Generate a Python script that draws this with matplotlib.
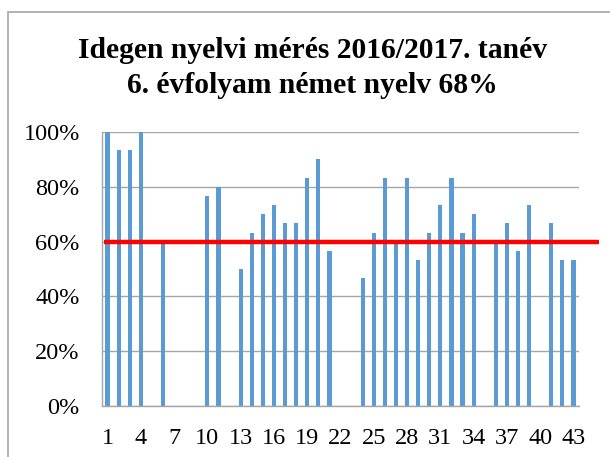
import numpy as np
import matplotlib
matplotlib.use("Agg")
import matplotlib.pyplot as plt
from matplotlib.patches import Rectangle

plt.rcParams['font.family'] = ['Liberation Serif', 'DejaVu Serif']

title_lines = ["Idegen nyelvi mérés 2016/2017. tanév",
               "6. évfolyam német nyelv 68%"]
categories = list(range(1, 44))
values = [100, 93.3, 93.3, 100, np.nan, 60, np.nan, np.nan, np.nan, 76.7,
          80, np.nan, 50, 63.3, 70, 73.3, 66.7, 66.7, 83.3, 90,
          56.7, np.nan, np.nan, 46.7, 63.3, 83.3, 60, 83.3, 53.3, 63.3,
          73.3, 83.3, 63.3, 70, np.nan, 60, 66.7, 56.7, 73.3, np.nan,
          66.7, 53.3, 53.3]
threshold = 60
yticks = [0, 20, 40, 60, 80, 100]
ytick_labels = ["0%", "20%", "40%", "60%", "80%", "100%"]
xtick_values = list(range(1, 44, 3))

fig = plt.figure(figsize=(6.10, 4.57), dpi=100)
ax = fig.add_axes([0.1672, 0.1116, 0.7820, 0.5995])

vals = np.array(values, dtype=float)
ax.bar(categories, np.nan_to_num(vals), width=0.38, color='#5B9BD5', zorder=2)

ax.set_xlim(0.5, 43.5)
ax.set_ylim(0, 100)
ax.set_yticks(yticks)
ax.set_yticklabels(ytick_labels, fontsize=17.5)
ax.set_xticks(xtick_values)
ax.set_xticklabels([str(v) for v in xtick_values], fontsize=17.5)
ax.tick_params(axis='both', length=0)
ax.tick_params(axis='y', pad=16)
ax.tick_params(axis='x', pad=16)
ax.yaxis.grid(True, color='#A6A6A6', linewidth=1.0, zorder=0)
ax.set_axisbelow(True)
for s in ['top', 'right']:
    ax.spines[s].set_visible(False)
for s in ['left', 'bottom']:
    ax.spines[s].set_color('#A6A6A6')
    ax.spines[s].set_linewidth(1.0)

ax.plot([0.68, 45.3], [threshold, threshold], color='#FF0000', linewidth=3.2,
        clip_on=False, zorder=3, solid_capstyle='butt')

fig.text(0.513, 1 - 58.3 / 457, title_lines[0], ha='center', va='baseline',
         fontsize=21.3, fontweight='bold')
fig.text(0.512, 1 - 93.3 / 457, title_lines[1], ha='center', va='baseline',
         fontsize=21.3, fontweight='bold')

fig.patches.append(Rectangle((8 / 610, -0.1), 1.2, 1 - 12 / 457 + 0.1,
                             transform=fig.transFigure, fill=False,
                             edgecolor='#A6A6A6', linewidth=1.2))

fig.savefig("out.png", dpi=100)
